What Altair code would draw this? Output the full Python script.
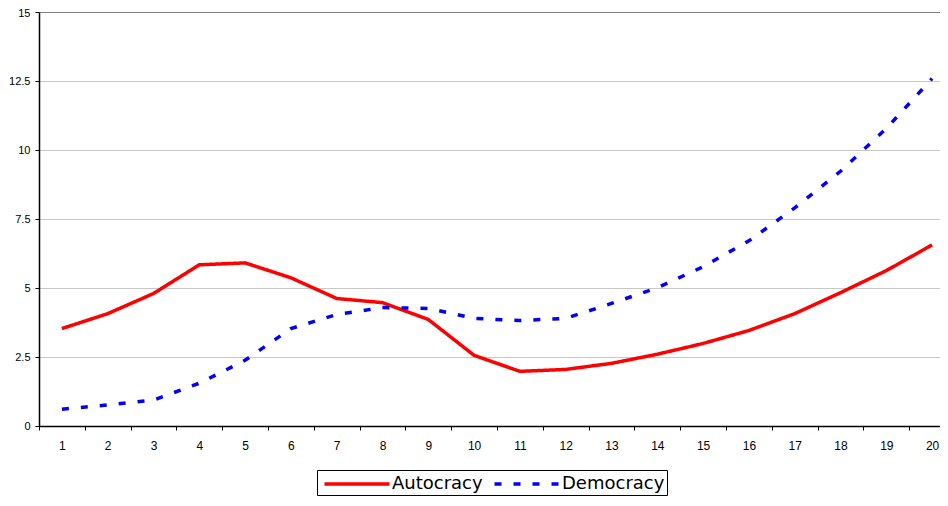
import altair as alt
import pandas as pd

periods = list(range(1, 21))
autocracy = [3.53, 4.07, 4.80, 5.84, 5.91, 5.37, 4.62, 4.47, 3.86, 2.56,
             1.98, 2.05, 2.27, 2.60, 2.99, 3.46, 4.07, 4.83, 5.63, 6.56]
democracy = [0.61, 0.76, 0.94, 1.55, 2.38, 3.53, 4.04, 4.29, 4.26, 3.90,
             3.82, 3.90, 4.44, 5.01, 5.77, 6.71, 7.90, 9.23, 10.78, 12.59]
series_names = ["Autocracy", "Democracy"]
y_ticks = [0, 2.5, 5, 7.5, 10, 12.5, 15]

rows = []
for name, vals in zip(series_names, [autocracy, democracy]):
    for p, v in zip(periods, vals):
        rows.append({"period": p, "value": v, "series": name})
df = pd.DataFrame(rows)

W = 901          # visible plot width (the last category is partly cut, as in the reference)
FULL = 916       # width that the 20 categories span
half_step = FULL / len(periods) / 2

x_scale = alt.Scale(domain=[0.5, 20.5], range=[0, FULL], nice=False, zero=False)
y_scale = alt.Scale(domain=[0, 15], nice=False)

color = alt.Color("series:N", title=None,
                  scale=alt.Scale(domain=series_names, range=["#ff0000", "#0000ff"]))
dash = alt.StrokeDash("series:N", title=None,
                      scale=alt.Scale(domain=series_names, range=[[1, 0], [7, 12]]))

chart = alt.Chart(df).mark_line(strokeWidth=3.5, strokeCap="butt").encode(
    x=alt.X("period:Q", scale=x_scale, title=None,
            axis=alt.Axis(values=periods, orient="bottom", grid=False,
                          tickOffset=-half_step, labelOffset=half_step,
                          ticks=True, tickSize=4, tickColor="black", tickWidth=1,
                          domainColor="black", domainWidth=1.5, labelPadding=10,
                          labelFont="Liberation Sans", labelFontSize=12, labelColor="black")),
    y=alt.Y("value:Q", scale=y_scale, title=None,
            axis=alt.Axis(values=y_ticks, labelExpr="datum.value + ''", grid=True,
                          gridColor=alt.condition("datum.value == 15", alt.value("#808080"), alt.value("#c8c8c8")),
                          labelOffset=alt.condition("datum.value == 15", alt.value(1), alt.value(0)),
                          gridWidth=1, domainColor="black", domainWidth=1.5,
                          tickColor="black", tickSize=4, labelPadding=5,
                          labelFont="Liberation Sans", labelFontSize=11, labelColor="black")),
    color=color,
    strokeDash=dash,
).properties(
    width=W, height=414,
    autosize=alt.AutoSizeParams(type="none"),
    padding={"left": 31, "top": 4, "right": 0, "bottom": 72},
).configure_view(stroke=None).configure_legend(
    orient="none", legendX=278, legendY=458, direction="horizontal",
    strokeColor="black", padding=2, symbolType="M-3.25,0H3.25", symbolSize=400,
    symbolOffset=26, labelOffset=23,
    symbolStrokeWidth=3.5, labelFont="DejaVu Sans", labelFontSize=18,
    labelColor="black", columnPadding=4, cornerRadius=0,
    fillColor="white",
)

chart.save("out.html", embed_options={"renderer": "svg", "actions": False})
